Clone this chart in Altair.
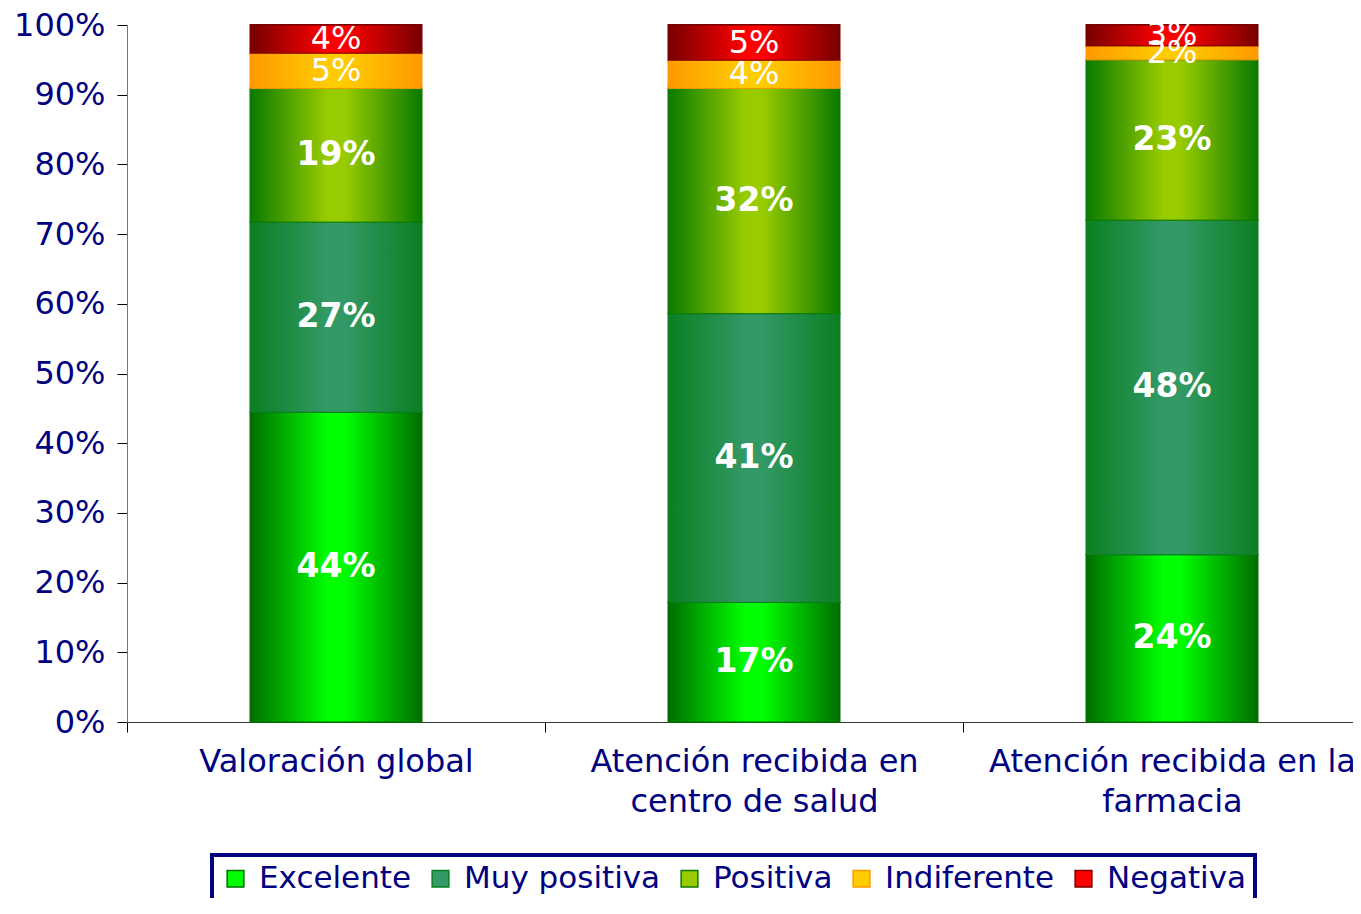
import altair as alt
import pandas as pd

categories = ["Valoración global", "Atención recibida en|centro de salud", "Atención recibida en la|farmacia"]
series = ["Excelente", "Muy positiva", "Positiva", "Indiferente", "Negativa"]
values = {
    "Excelente":    [44, 17, 24],
    "Muy positiva": [27, 41, 48],
    "Positiva":     [19, 32, 23],
    "Indiferente":  [5, 4, 2],
    "Negativa":     [4, 5, 3],
}
mid_colors = ["#00FF00", "#339966", "#99CC00", "#FFCC00", "#FF0000"]
edge_colors = ["#006E00", "#0B7F22", "#0A7A00", "#FF9900", "#780000"]
bold_series = ["Excelente", "Muy positiva", "Positiva"]

rows = []
for si, s in enumerate(series):
    for ci, c in enumerate(categories):
        rows.append({"cat": c, "series": s, "order": si, "value": values[s][ci]})
df = pd.DataFrame(rows)

NAVY = "#000080"
FONT = "DejaVu Sans"

base = alt.Chart(df).transform_stack(
    stack="value", groupby=["cat"], as_=["y0", "y1"], offset="normalize",
    sort=[alt.SortField("order", order="ascending")]
).transform_calculate(
    mid="(datum.y0 + datum.y1) / 2", label="datum.value + '%'"
)

x_enc = alt.X("cat:N", sort=categories, title=None,
              scale=alt.Scale(range=[0, 1254], paddingInner=0, paddingOuter=0),
              axis=alt.Axis(labelExpr="split(datum.label, '|')", labelAngle=0,
                            labelFontSize=32, labelColor=NAVY, labelFont=FONT,
                            labelLineHeight=40, labelPadding=14, tickBand="extent",
                            tickSize=10, tickColor="#000000", domainColor="#333333",
                            labelBaseline="top", labelLimit=0, labelOverlap=False))
y_enc = alt.Y("y0:Q", title=None,
              scale=alt.Scale(domain=[0, 1], nice=False),
              axis=alt.Axis(format=".0%", values=[i / 10 for i in range(11)],
                            labelFontSize=32, labelColor=NAVY, labelFont=FONT,
                            labelPadding=12, tickSize=10, tickColor="#000000",
                            domainColor="#777777", grid=False))

legend_layer = base.mark_bar(size=171, strokeWidth=2).encode(
    x=x_enc, y=y_enc, y2="y1:Q",
    fill=alt.Fill("series:N", scale=alt.Scale(domain=series, range=mid_colors),
                  legend=alt.Legend(title=None, orient="none", legendX=85, legendY=830,
                                    direction="horizontal", columns=5,
                                    labelFontSize=31, labelColor=NAVY, labelFont=FONT,
                                    labelLimit=0,
                                    symbolType="square", symbolSize=280,
                                    columnPadding=13, labelOffset=8,
                                    strokeColor=NAVY, padding=8)),
    stroke=alt.Stroke("series:N", scale=alt.Scale(domain=series, range=edge_colors), legend=None),
)

grad_layers = []
for s, mc, ec in zip(series, mid_colors, edge_colors):
    grad = alt.LinearGradient(
        gradient="linear", x1=0, x2=1, y1=0, y2=0,
        stops=[alt.GradientStop(color=ec, offset=0),
               alt.GradientStop(color=mc, offset=0.45),
               alt.GradientStop(color=mc, offset=0.55),
               alt.GradientStop(color=ec, offset=1)])
    grad_layers.append(
        base.transform_filter(alt.datum.series == s).mark_bar(
            size=171, color=grad, stroke=ec, strokeWidth=1
        ).encode(x=alt.X("cat:N", sort=categories), y="y0:Q", y2="y1:Q")
    )

text_bold = base.transform_filter(alt.FieldOneOfPredicate(field="series", oneOf=bold_series)).mark_text(
    font=FONT, fontSize=33, fontWeight="bold", color="white", baseline="middle"
).encode(x=alt.X("cat:N", sort=categories), y="mid:Q", text="label:N")

text_reg = base.transform_filter(~alt.FieldOneOfPredicate(field="series", oneOf=bold_series)).mark_text(
    font=FONT, fontSize=32, color="white", baseline="middle"
).encode(x=alt.X("cat:N", sort=categories), y="mid:Q", text="label:N")

chart = alt.layer(legend_layer, *grad_layers, text_bold, text_reg).properties(
    width=1226, height=697,
    autosize=alt.AutoSizeParams(type="none"),
    padding={"left": 119, "top": 17, "right": 0, "bottom": 176},
).configure_view(stroke=None).configure_legend(strokeWidth=4, cornerRadius=0)

chart.save("out.html", embed_options={"renderer": "svg", "actions": False})
